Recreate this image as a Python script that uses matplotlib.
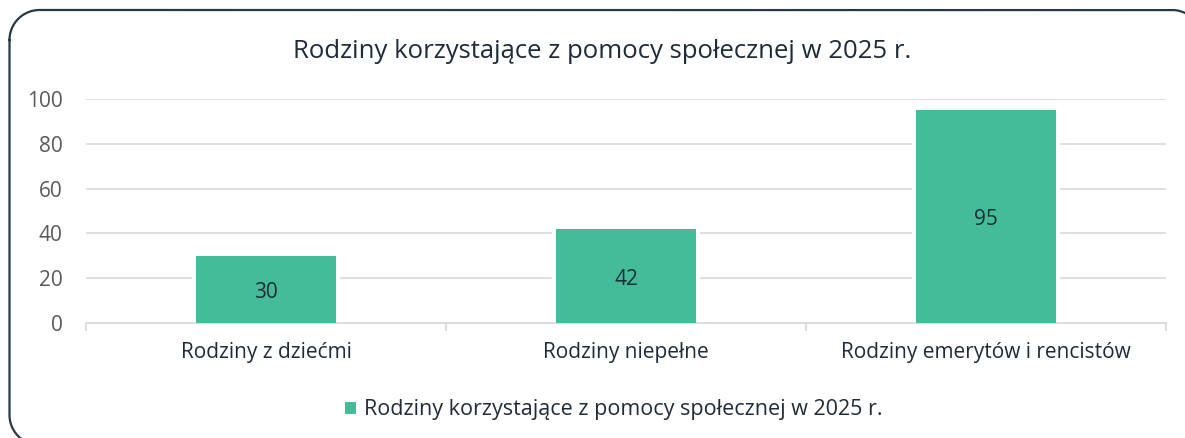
import matplotlib
matplotlib.use("Agg")
import matplotlib.pyplot as plt
import numpy as np

categories = ["Rodziny z dziećmi", "Rodziny niepełne", "Rodziny emerytów i rencistów"]
values = [30, 42, 95]
series_name = "Rodziny korzystające z pomocy społecznej w 2025 r."
title = "Rodziny korzystające z pomocy społecznej w 2025 r."
yticks = [0, 20, 40, 60, 80, 100]

BAR = "#45BC98"
TXT = "#1E2B3A"
GRAY = "#595959"
GRID = "#D9D9D9"

plt.rcParams['font.family'] = ['Open Sans', 'DejaVu Sans']

fig = plt.figure(figsize=(11.85, 4.38), dpi=100)
W, H = 1185, 438

# overlay in pixel units for the rounded frame (y measured from bottom)
ov = fig.add_axes([0, 0, 1, 1], zorder=-1)
ov.set_xlim(0, W)
ov.set_ylim(0, H)
ov.axis("off")


def rounded_outline(x0, y0, x1, y1, r, n=40):
    pts = []
    corners = [((x0 + r, y1 - r), 180, 90),   # top-left
               ((x1 - r, y1 - r), 90, 0),     # top-right
               ((x1 - r, y0 + r), 0, -90),    # bottom-right
               ((x0 + r, y0 + r), -90, -180)] # bottom-left
    for (cx, cy), a0, a1 in corners:
        t = np.radians(np.linspace(a0, a1, n))
        pts.extend(zip(cx + r * np.cos(t), cy + r * np.sin(t)))
    pts.append(pts[0])
    return np.array(pts)


outline = rounded_outline(9.5, -7, 1202, H - 10, 30)
ov.plot(outline[:, 0], outline[:, 1], color="#2A3746", linewidth=1.6,
        solid_joinstyle="round", clip_on=False)

ax = fig.add_axes([86 / W, 1 - 323 / H, (1166 - 86) / W, (323 - 99) / H])
ax.patch.set_alpha(0)
x = list(range(len(categories)))
# white halo behind the bars (gap in gridlines)
ax.bar(x, values, width=0.39, color="white", edgecolor="white",
       linewidth=5.5, zorder=1)
bars = ax.bar(x, values, width=0.389, color=BAR, linewidth=0, zorder=3)
ax.set_xlim(-0.5, len(categories) - 0.5)
ax.set_ylim(0, 100)
ax.set_yticks(yticks)
ax.set_yticklabels([str(t) for t in yticks], color=GRAY, fontsize=15)
ax.tick_params(axis='y', length=0, pad=17)
ax.yaxis.grid(True, color=GRID, linewidth=1.2, zorder=0)
ax.set_axisbelow(True)
for s in ["top", "right", "left"]:
    ax.spines[s].set_visible(False)
ax.spines["bottom"].set_color(GRID)
ax.spines["bottom"].set_linewidth(1.2)
ax.spines["bottom"].set_zorder(2)
ax.set_xticks([i - 0.5 for i in range(len(categories) + 1)], minor=False)
ax.set_xticklabels([""] * (len(categories) + 1))
ax.tick_params(axis='x', length=6, color=GRID, width=1.2)
ax.set_xticks(x, minor=True)
ax.set_xticklabels(categories, minor=True, color=TXT, fontsize=15)
ax.tick_params(axis='x', which='minor', length=0, pad=14)

for b, v in zip(bars, values):
    ax.text(b.get_x() + b.get_width() / 2, v / 2 - 1.5, str(v), ha="center",
            va="center", color=TXT, fontsize=15, zorder=4)

fig.text(602 / W, 1 - 52 / H, title, ha="center", va="center",
         color=TXT, fontsize=18.5)

leg = ax.legend([bars[0]], [series_name], loc="center",
                bbox_to_anchor=(614 / W, 1 - 410 / H),
                bbox_transform=fig.transFigure, frameon=False,
                fontsize=15.5, handlelength=0.5, handleheight=0.5,
                handletextpad=0.4)
for t in leg.get_texts():
    t.set_color(TXT)

fig.savefig("out.png", dpi=100)
